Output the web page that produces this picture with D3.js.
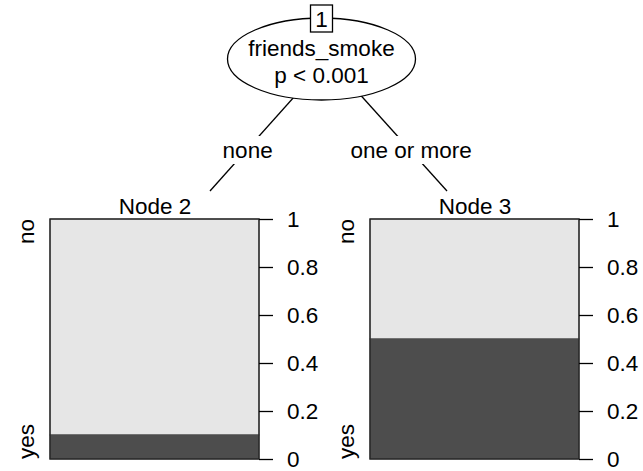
<!DOCTYPE html>
<html>
<head>
<meta charset="utf-8">
<script src="https://cdn.jsdelivr.net/npm/d3@7"></script>
<style>
body { margin: 0; background: #fff; }
text { font-family: "Liberation Sans", Arial, Helvetica, sans-serif; }
</style>
</head>
<body>
<script>
// data
var nodeIds = ["1"];
var splitVar = ["friends_smoke"];
var pValues = ["p < 0.001"];
var terminalNodes = ["Node 2", "Node 3"];
var edgeLabels = ["none", "one or more"];
var classes = ["no", "yes"];
var yesShare = [0.1, 0.5];
var tickValues = [0, 0.2, 0.4, 0.6, 0.8, 1];

var width = 643, height = 471;
var fontSize = 22.5;

var svg = d3.select("body").append("svg")
    .attr("width", width)
    .attr("height", height);

// terminal panels
var panelW = 209;
var xPanel = d3.scalePoint()
    .domain(terminalNodes)
    .range([50, 370]);

var yScale = d3.scaleLinear()
    .domain([0, 1])
    .range([459, 219]);

// tree geometry
var root = {x: 321.5, y: 59, rx: 94, ry: 41};
var edgeTop = {x: 328, y: 59};
var childY = 191;
var childX = [210, 447];

// edges first, then label backgrounds, then labels
var edgeLayer = svg.append("g");
var labelLayer = svg.append("g");

edgeLabels.forEach(function(lab, i) {
    edgeLayer.append("line")
        .attr("x1", edgeTop.x).attr("y1", edgeTop.y)
        .attr("x2", childX[i]).attr("y2", childY)
        .attr("stroke", "#000")
        .attr("stroke-width", 1.3);

    var ly = 150;
    var lx = edgeTop.x + (childX[i] - edgeTop.x) * (ly - edgeTop.y) / (childY - edgeTop.y);
    var bg = labelLayer.append("rect").attr("fill", "#fff");
    var t = labelLayer.append("text")
        .attr("x", lx + 1)
        .attr("y", ly + 8)
        .attr("text-anchor", "middle")
        .attr("font-size", fontSize + "px")
        .text(lab);
    var bb = t.node().getBBox();
    bg.attr("x", bb.x - 4)
        .attr("y", 136)
        .attr("width", bb.width + 8)
        .attr("height", 28);
});

// inner node
svg.append("ellipse")
    .attr("cx", root.x).attr("cy", root.y)
    .attr("rx", root.rx).attr("ry", root.ry)
    .attr("fill", "#fff")
    .attr("stroke", "#000")
    .attr("stroke-width", 1.3);

svg.append("text")
    .attr("x", root.x).attr("y", 56)
    .attr("text-anchor", "middle")
    .attr("font-size", fontSize + "px")
    .text(splitVar[0]);

svg.append("text")
    .attr("x", root.x).attr("y", 83)
    .attr("text-anchor", "middle")
    .attr("font-size", fontSize + "px")
    .text(pValues[0]);

svg.append("rect")
    .attr("x", root.x - 11)
    .attr("y", 5)
    .attr("width", 22)
    .attr("height", 27)
    .attr("fill", "#fff")
    .attr("stroke", "#000")
    .attr("stroke-width", 1.3);
svg.append("text")
    .attr("x", root.x).attr("y", 27)
    .attr("text-anchor", "middle")
    .attr("font-size", fontSize + "px")
    .text(nodeIds[0]);

// terminal panels
terminalNodes.forEach(function(name, i) {
    var x0 = xPanel(name);
    var g = svg.append("g");
    var yes = yesShare[i];

    g.append("text")
        .attr("x", x0 + panelW / 2 + 0.5)
        .attr("y", 214)
        .attr("text-anchor", "middle")
        .attr("font-size", fontSize + "px")
        .text(name);

    // "no" part
    g.append("rect")
        .attr("x", x0)
        .attr("y", yScale(1))
        .attr("width", panelW)
        .attr("height", yScale(yes) - yScale(1))
        .attr("fill", "#e6e6e6")
        .attr("stroke", "#4d4d4d")
        .attr("stroke-width", 1);

    // "yes" part
    g.append("rect")
        .attr("x", x0)
        .attr("y", yScale(yes))
        .attr("width", panelW)
        .attr("height", yScale(0) - yScale(yes))
        .attr("fill", "#4d4d4d")
        .attr("stroke", "#4d4d4d")
        .attr("stroke-width", 1);

    g.append("rect")
        .attr("x", x0)
        .attr("y", yScale(1))
        .attr("width", panelW)
        .attr("height", yScale(0) - yScale(1))
        .attr("fill", "none")
        .attr("stroke", "#222")
        .attr("stroke-width", 1.3);

    var axis = d3.axisRight(yScale)
        .tickValues(tickValues)
        .tickSize(14)
        .tickPadding(14)
        .tickFormat(function(d) { return d3.format("")(d); });

    var ax = g.append("g")
        .attr("transform", "translate(" + (x0 + panelW) + ",0)")
        .call(axis);
    ax.select(".domain").remove();
    ax.selectAll("line").attr("stroke", "#000").attr("stroke-width", 1.3);
    ax.selectAll("text")
        .attr("font-size", fontSize + "px")
        .attr("font-family", "Liberation Sans, Arial, sans-serif")
        .attr("fill", "#000");

    // class labels
    g.append("text")
        .attr("transform", "translate(" + (x0 - 16) + "," + yScale(1) + ") rotate(-90)")
        .attr("text-anchor", "end")
        .attr("font-size", fontSize + "px")
        .text(classes[0]);
    g.append("text")
        .attr("transform", "translate(" + (x0 - 16) + "," + yScale(0) + ") rotate(-90)")
        .attr("text-anchor", "start")
        .attr("font-size", fontSize + "px")
        .text(classes[1]);
});
</script>
</body>
</html>
